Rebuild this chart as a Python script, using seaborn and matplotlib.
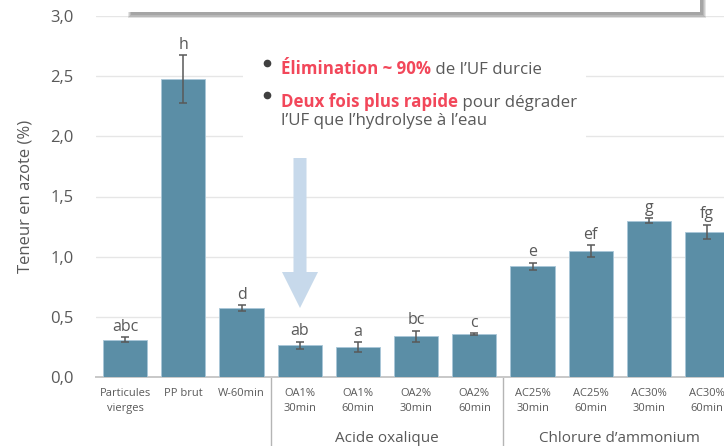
import numpy as np
import matplotlib
matplotlib.use('Agg')
from matplotlib import pyplot as plt
from matplotlib.patches import Rectangle, Polygon
from matplotlib.text import Annotation
from matplotlib.lines import Line2D
import seaborn as sns

# data
labels = ['Particules\nvierges', 'PP brut', 'W-60min',
          'OA1%\n30min', 'OA1%\n60min', 'OA2%\n30min', 'OA2%\n60min',
          'AC25%\n30min', 'AC25%\n60min', 'AC30%\n30min', 'AC30%\n60min']
teneur = [0.31, 2.475, 0.57, 0.265, 0.25, 0.34, 0.355, 0.92, 1.045, 1.30, 1.205]
erreur = [0.02, 0.20, 0.025, 0.03, 0.04, 0.045, 0.008, 0.03, 0.05, 0.02, 0.06]
lettres = ['abc', 'h', 'd', 'ab', 'a', 'bc', 'c', 'e', 'ef', 'g', 'fg']
groupes = ['Acide oxalique', "Chlorure d\u2019ammonium"]
groupe_debut = [3, 7]
groupe_fin = [6, 10]

W, H = 724, 446
BAR = '#5b8ea6'
GREY = '#595959'
RED = '#f2475a'
FS = 12.2


def px(x, y):
    return (x / W, 1 - y / H)


def box(x0, y0, x1, y1, **kw):
    # rectangle given by pixel corners (top-left, bottom-right)
    r = Rectangle(px(x0, y1), (x1 - x0) / W, (y1 - y0) / H,
                  transform=fig.transFigure, edgecolor='none', **kw)
    fig.patches.append(r)
    return r


sns.set_style('white')
plt.rcParams['font.family'] = ['Open Sans', 'DejaVu Sans']
plt.rcParams['text.color'] = GREY

fig = plt.figure(figsize=(W / 100, H / 100), dpi=100)
ax = fig.add_axes([96 / W, 1 - 377 / H, 1 - 96 / W, (377 - 16) / H])

sns.barplot(x=labels, y=teneur, color=BAR, width=0.76, ax=ax,
            edgecolor='#a9c7d8', linewidth=0.6, saturation=1, zorder=3)
ax.errorbar(np.arange(len(teneur)), teneur, yerr=erreur, fmt='none',
            ecolor=GREY, elinewidth=1.1, capsize=3, capthick=1.1, zorder=4)
for i, (v, e, l) in enumerate(zip(teneur, erreur, lettres)):
    ax.text(i, v + e + 0.02, l, ha='center', va='bottom', fontsize=11.5, color=GREY)

ax.set_xlim(-0.5, 10.29)
ax.set_ylim(0, 3.0)
ax.set_yticks(np.arange(0, 3.01, 0.5))
ax.set_yticklabels([f'{t:.1f}'.replace('.', ',') for t in np.arange(0, 3.01, 0.5)],
                   fontsize=12, color=GREY)
ax.set_ylabel('Teneur en azote (%)', fontsize=12, color=GREY, labelpad=12)
ax.tick_params(axis='x', labelsize=8, colors=GREY, length=0, pad=8)
for lab in ax.get_xticklabels():
    lab.set_linespacing(1.45)
ax.tick_params(axis='y', length=0, pad=16)
ax.grid(axis='y', color='#e6e6e6', linewidth=1, zorder=0)
ax.set_axisbelow(True)
for s in ['top', 'right', 'left']:
    ax.spines[s].set_visible(False)
ax.spines['bottom'].set_color('#c8c8c8')
ax.spines['bottom'].set_linewidth(1.4)

# group separators and labels
trans = ax.get_xaxis_transform()
for xs in [2.5, 6.5]:
    ax.plot([xs, xs], [0, -0.2], transform=trans, color='#b5b5b5', lw=1,
            clip_on=False)
for g, a, b in zip(groupes, groupe_debut, groupe_fin):
    ax.text((a + b) / 2, -0.17, g, transform=trans, ha='center', va='center',
            fontsize=11, color=GREY)

# white callout box with the bullet text
box(243, 45, 586, 140, facecolor='white', zorder=5)
t1 = fig.text(281 / W, 1 - 74 / H, '\u00c9limination ~ 90%', color=RED,
              fontsize=FS, fontweight='bold', zorder=6)
fig.add_artist(Annotation(' de l\u2019UF durcie', xy=(1, 0), xycoords=t1,
                          va='bottom', ha='left', fontsize=FS, color=GREY,
                          zorder=6))
t2 = fig.text(281 / W, 1 - 107 / H, 'Deux fois plus rapide', color=RED,
              fontsize=FS, fontweight='bold', zorder=6)
fig.add_artist(Annotation(' pour d\u00e9grader', xy=(1, 0), xycoords=t2,
                          va='bottom', ha='left', fontsize=FS, color=GREY,
                          zorder=6))
fig.text(281 / W, 1 - 125 / H, 'l\u2019UF que l\u2019hydrolyse \u00e0 l\u2019eau',
         fontsize=FS, color=GREY, zorder=6)
for yb in [63, 95]:
    fig.add_artist(Line2D([267 / W], [1 - yb / H], marker='o', markersize=4.5,
                          color='#404040', transform=fig.transFigure, zorder=6))

# arrow
ax_x, sh, hw, top, bot, hl = 300, 6.5, 18, 158, 308, 36
pts = [(ax_x - sh, top), (ax_x + sh, top), (ax_x + sh, bot - hl),
       (ax_x + hw, bot - hl), (ax_x, bot), (ax_x - hw, bot - hl),
       (ax_x - sh, bot - hl)]
fig.patches.append(Polygon([px(x, y) for x, y in pts], closed=True,
                           transform=fig.transFigure, facecolor='#c7d9eb',
                           edgecolor='none', zorder=5))

# top panel with a soft shadow
for k in range(4):
    box(131 - k, -20, 703 + k, 15 + k, facecolor='black', alpha=0.1, zorder=7)
box(128, -20, 700, 12, facecolor='white', zorder=8)

fig.savefig('out.png', dpi=100)
